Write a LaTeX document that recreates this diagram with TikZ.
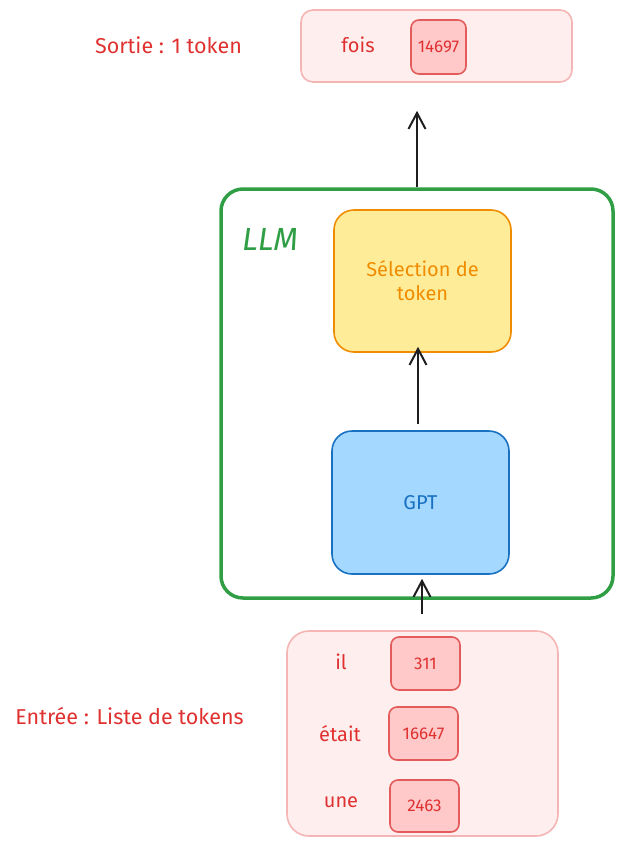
\documentclass[tikz,border=0pt]{standalone}
\usepackage{fontspec}
\setmainfont{Fira Sans}
\usetikzlibrary{arrows.meta,positioning}

\definecolor{tokred}{HTML}{E03131}
\definecolor{tokpink}{HTML}{FFEEEE}
\definecolor{tokline}{HTML}{F5B5B5}
\definecolor{tokfill}{HTML}{FFC9C9}
\definecolor{tokedge}{HTML}{E35B5B}
\definecolor{llmgreen}{HTML}{2F9E44}
\definecolor{selfill}{HTML}{FFEC99}
\definecolor{seledge}{HTML}{F08C00}
\definecolor{gptfill}{HTML}{A5D8FF}
\definecolor{gptedge}{HTML}{1971C2}
\definecolor{inkblack}{HTML}{1E1E1E}

\begin{document}
\begin{tikzpicture} [x=1pt, y=-1pt,
				group/.style={
				% The shape:
				rectangle, rounded corners=12pt,
				% The size:
				inner sep=0pt,
				% The border:
				line width=1.6pt, draw=tokline,
				% The filling:
				fill=tokpink
				},
				tok/.style={
				% The shape:
				rectangle, rounded corners=8pt,
				% The size:
				minimum width=69pt, minimum height=53pt, inner sep=0pt,
				% The border:
				line width=1.6pt, draw=tokedge,
				% The filling:
				fill=tokfill,
				% Font
				text=tokred, font=\fontsize{17}{20}\selectfont
				},
				block/.style={
				% The shape:
				rectangle, rounded corners=20pt,
				% The size:
				minimum width=177pt, minimum height=142pt, inner sep=0pt,
				% The border:
				line width=1.6pt,
				% Font
				align=center, font=\fontsize{20}{24}\selectfont
				},
				word/.style={text=tokred, font=\fontsize{20}{24}\selectfont},
				label/.style={text=tokred, font=\fontsize{21.5}{24}\selectfont},
				flow/.style={-{Straight Barb[length=16pt,width=17pt]}, line width=2pt, draw=inkblack}
				]
    \useasboundingbox (0,0) rectangle (622,847);
    % output
    \node [group, minimum width=271pt, minimum height=72pt] (out) at (436.5,46) {};
    \node [word] (fois) at (358,45) {fois};
    \node [tok, minimum width=55pt, minimum height=54pt] (t14697) at (438.5,47) {14697};
    \node [label] (sortie) at (168.5,45) {Sortie : 1 token};
    % model
    \node [rectangle, rounded corners=22pt, line width=3.5pt, draw=llmgreen,
           minimum width=392pt, minimum height=409pt] (llm) at (417,393.5) {};
    \node [text=llmgreen, font=\fontsize{32}{36}\selectfont\itshape] (llmname) at (270,239) {LLM};
    \node [block, draw=seledge, fill=selfill, text=seledge] (sel) at (422.5,281) {Sélection de\\token};
    \node [block, draw=gptedge, fill=gptfill, text=gptedge, minimum height=143pt] (gpt) at (420.5,502.5) {GPT};
    % input
    \node [group, rounded corners=22pt, minimum width=271pt, minimum height=205pt] (in) at (422.5,733.5) {};
    \node [word] (il) at (341,662) {il};
    \node [word] (etait) at (340,734) {était};
    \node [word] (une) at (341,802) {une};
    \node [tok] (t311) at (425.5,663.5) {311};
    \node [tok] (t16647) at (423.5,733.5) {16647};
    \node [tok, minimum height=52pt] (t2463) at (424.5,806) {2463};
    \node [label] (entree) at (129.5,716) {Entrée : Liste de tokens};
    % arrows
    \draw [flow, shorten <=16pt, shorten >=4pt] (in.north -| gpt.north) ++(1.5,0) -- (gpt.south -| 422,0);
    \draw [flow, shorten <=6pt, shorten >=-6pt] (gpt.north -| 418,0) -- (sel.south -| 418,0);
    \draw [flow, shorten <=0pt, shorten >=28pt] (llm.north) -- (out.south -| llm.north);
\end{tikzpicture}
\end{document}
